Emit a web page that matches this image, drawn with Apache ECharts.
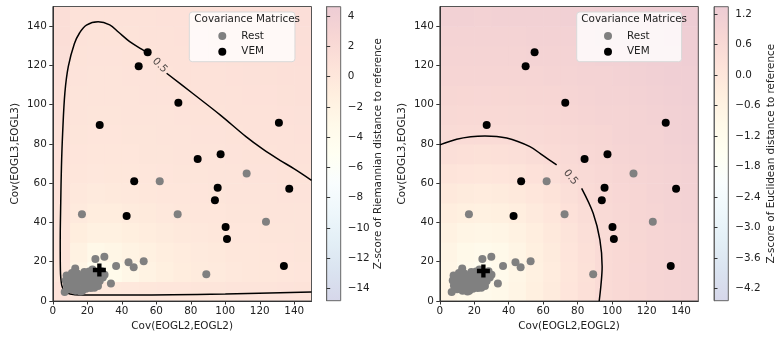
<!DOCTYPE html>
<html>
<head>
<meta charset="utf-8">
<script src="https://cdn.jsdelivr.net/npm/echarts@6/dist/echarts.min.js"></script>
<style>
  html, body { margin: 0; padding: 0; background: #fff; }
  #chart { width: 779px; height: 338px; }
</style>
</head>
<body>
<div id="chart"></div>
<script>
'use strict';

// scatter points, shared by both panels
var restPoints = [
  [112.4, 64.9], [62.0, 61.0], [16.9, 44.2], [72.4, 44.2], [123.6, 40.4], [89.0, 13.6],
  [29.9, 22.6], [24.7, 21.4], [43.9, 19.7], [52.7, 20.2], [36.7, 17.8], [46.9, 17.2],
  [33.7, 8.9], [13.0, 16.5], [6.9, 4.6],
  [8.0, 13.0], [10.2, 12.1], [9.1, 10.0], [11.3, 8.8], [8.2, 7.9], [12.4, 6.9], [10.1, 6.0],
  [13.2, 5.2], [15.3, 6.1], [17.1, 5.2], [19.2, 6.3], [14.0, 9.2], [16.2, 10.1], [18.1, 8.2],
  [20.3, 7.4], [22.0, 6.6], [21.2, 9.3], [23.1, 10.4], [19.0, 11.2], [17.2, 13.1], [15.1, 12.0],
  [12.2, 11.1], [20.2, 13.3], [22.1, 12.2], [24.2, 11.3], [26.1, 12.1], [28.0, 13.0], [25.1, 9.1],
  [27.2, 10.2], [29.0, 12.0], [18.3, 14.8], [21.1, 15.0], [24.0, 14.2], [23.0, 16.0], [28.3, 15.2],
  [30.0, 13.4], [16.1, 4.8], [24.1, 6.8], [26.2, 7.6], [11.1, 14.2], [14.2, 14.0], [9.0, 7.0],
  [7.5, 10.5], [13.5, 12.8]
];
var vemPoints = [
  [84.0, 72.3], [97.3, 74.7], [47.2, 61.0], [95.6, 57.7], [137.1, 57.2], [94.0, 51.3],
  [42.8, 43.3], [100.2, 37.7], [101.0, 31.6], [134.0, 17.8], [55.0, 126.7], [49.8, 119.6],
  [72.8, 101.0], [27.2, 89.7], [131.1, 90.8], [152.0, 94.8]
];

// reference matrices (cross)
var refRiemann = [27.0, 15.8];
var refEuclid = [25.3, 15.3];

// 0.5 contour lines, split where the label sits
var contourRiemannA = [
  [150, 61.5], [140, 67.3], [131.5, 71.8], [122, 77.2], [112, 83.7], [97, 94.8], [81, 105.8], [66, 116]
];
var contourRiemannB = [
  [56.2, 125.3], [52, 128], [44.6, 132.1], [38, 137], [33, 140.6], [26.3, 142.2], [19.5, 140.5],
  [15.5, 136.5], [12.5, 131], [9, 119.5], [7, 106], [5.7, 85.4], [5, 68], [4.6, 50], [4.3, 30],
  [4.4, 16], [5.2, 8], [7, 4.8], [10, 3.6], [16, 3.1], [47, 3.1], [100, 3.6], [150, 4.6]
];
var contourEuclidA = [
  [0, 79.5], [9.8, 82.4], [18, 83.7], [26.2, 84.1], [38.8, 83.0], [52.3, 78.6], [60, 74], [67.8, 69.3]
];
var contourEuclidB = [
  [82.3, 57.4], [89, 44.7], [92.9, 31.1], [94.2, 17.5], [93.5, 8], [92.5, 0]
];
var contourLabelRiemann = [62, 120];
var contourLabelEuclid = [75.9, 63];

// background z-score field, cell centres every 10 units, rows from y=5 (bottom) up
var cellCenters = [5, 15, 25, 35, 45, 55, 65, 75, 85, 95, 105, 115, 125, 135, 145];
var zRiemann = [
  [0.69, -0.08, -0.35, -0.30, -0.15, 0.01, 0.10, 0.19, 0.26, 0.33, 0.38, 0.44, 0.49, 0.54, 0.58],
  [0.35, -2.36, -4.20, -3.69, -2.69, -1.96, -1.41, -0.98, -0.68, -0.43, -0.22, -0.04, 0.05, 0.14, 0.21],
  [0.39, -1.81, -2.89, -2.65, -2.06, -1.52, -1.06, -0.75, -0.47, -0.26, -0.07, 0.05, 0.13, 0.21, 0.27],
  [0.48, -1.04, -1.67, -1.55, -1.19, -0.87, -0.58, -0.34, -0.14, 0.02, 0.11, 0.19, 0.26, 0.32, 0.37],
  [0.58, -0.52, -0.91, -0.84, -0.62, -0.40, -0.19, 0.00, 0.09, 0.18, 0.25, 0.31, 0.37, 0.42, 0.47],
  [0.67, -0.15, -0.43, -0.38, -0.23, -0.05, 0.07, 0.15, 0.24, 0.30, 0.36, 0.41, 0.47, 0.51, 0.56],
  [0.77, 0.08, -0.09, -0.05, 0.04, 0.12, 0.21, 0.28, 0.34, 0.40, 0.45, 0.51, 0.56, 0.60, 0.65],
  [0.86, 0.21, 0.10, 0.12, 0.18, 0.25, 0.32, 0.38, 0.43, 0.49, 0.54, 0.59, 0.64, 0.69, 0.74],
  [0.95, 0.31, 0.23, 0.24, 0.29, 0.35, 0.41, 0.46, 0.52, 0.57, 0.62, 0.67, 0.73, 0.78, 0.83],
  [1.05, 0.40, 0.32, 0.33, 0.38, 0.43, 0.49, 0.54, 0.59, 0.64, 0.70, 0.76, 0.81, 0.86, 0.91],
  [1.13, 0.48, 0.40, 0.41, 0.45, 0.51, 0.56, 0.61, 0.66, 0.72, 0.78, 0.84, 0.89, 0.94, 1.00],
  [1.21, 0.55, 0.47, 0.49, 0.53, 0.57, 0.63, 0.68, 0.74, 0.80, 0.86, 0.91, 0.97, 1.03, 1.08],
  [1.29, 0.61, 0.54, 0.55, 0.59, 0.64, 0.70, 0.76, 0.82, 0.87, 0.93, 0.99, 1.05, 1.11, 1.16],
  [1.36, 0.68, 0.60, 0.61, 0.65, 0.71, 0.77, 0.83, 0.88, 0.95, 1.01, 1.07, 1.13, 1.18, 1.24],
  [1.42, 0.75, 0.66, 0.68, 0.72, 0.78, 0.84, 0.89, 0.96, 1.02, 1.08, 1.14, 1.20, 1.25, 1.30]
];
var zEuclid = [
  [-0.73, -0.98, -1.10, -0.98, -0.73, -0.46, -0.22, 0.03, 0.27, 0.51, 0.61, 0.71, 0.80, 0.88, 0.95],
  [-0.80, -1.10, -1.35, -1.10, -0.80, -0.50, -0.25, 0.00, 0.25, 0.50, 0.60, 0.70, 0.80, 0.88, 0.95],
  [-0.73, -0.98, -1.10, -0.98, -0.73, -0.46, -0.22, 0.03, 0.27, 0.51, 0.61, 0.71, 0.80, 0.88, 0.95],
  [-0.55, -0.73, -0.80, -0.73, -0.55, -0.35, -0.13, 0.10, 0.33, 0.53, 0.63, 0.72, 0.82, 0.89, 0.96],
  [-0.35, -0.46, -0.50, -0.46, -0.35, -0.19, 0.00, 0.21, 0.43, 0.56, 0.65, 0.75, 0.84, 0.91, 0.98],
  [-0.13, -0.22, -0.25, -0.22, -0.13, 0.00, 0.16, 0.35, 0.52, 0.61, 0.69, 0.79, 0.86, 0.93, 1.00],
  [0.10, 0.03, 0.00, 0.03, 0.10, 0.21, 0.35, 0.51, 0.58, 0.66, 0.74, 0.82, 0.89, 0.96, 1.02],
  [0.33, 0.27, 0.25, 0.27, 0.33, 0.43, 0.52, 0.58, 0.65, 0.72, 0.80, 0.87, 0.93, 0.99, 1.05],
  [0.53, 0.51, 0.50, 0.51, 0.53, 0.56, 0.61, 0.66, 0.72, 0.79, 0.85, 0.91, 0.96, 1.03, 1.09],
  [0.63, 0.61, 0.60, 0.61, 0.63, 0.65, 0.69, 0.74, 0.80, 0.85, 0.90, 0.95, 1.01, 1.07, 1.12],
  [0.72, 0.71, 0.70, 0.71, 0.72, 0.75, 0.79, 0.82, 0.87, 0.91, 0.95, 1.00, 1.06, 1.11, 1.15],
  [0.82, 0.80, 0.80, 0.80, 0.82, 0.84, 0.86, 0.89, 0.93, 0.96, 1.01, 1.06, 1.11, 1.14, 1.18],
  [0.89, 0.88, 0.88, 0.88, 0.89, 0.91, 0.93, 0.96, 0.99, 1.03, 1.07, 1.11, 1.14, 1.18, 1.21],
  [0.96, 0.95, 0.95, 0.95, 0.96, 0.98, 1.00, 1.02, 1.05, 1.09, 1.12, 1.15, 1.18, 1.21, 1.25],
  [1.03, 1.03, 1.02, 1.03, 1.03, 1.05, 1.07, 1.09, 1.12, 1.14, 1.16, 1.19, 1.22, 1.25, 1.28]
];

// colorbars
var cbRiemannRange = [-14.82, 4.62];
var cbRiemannTicks = [-14, -12, -10, -8, -6, -4, -2, 0, 2, 4];
var cbEuclidRange = [-4.44, 1.34];
var cbEuclidTicks = [-4.2, -3.6, -3.0, -2.4, -1.8, -1.2, -0.6, 0, 0.6, 1.2];

// RdYlBu_r, faded (alpha 0.2 on white), low -> high
var cmap = ['#d6d7ea', '#dae3f0', '#e3eff6', '#eef7fb', '#f9fdfe', '#fffff2',
            '#fff9e9', '#ffefdf', '#fde2d9', '#f7d6d4', '#edccd4'];

var font = 'DejaVu Sans';
var fs = 10.4;
var ink = '#222';
var cellHalf = (cellCenters[1] - cellCenters[0]) / 2;
var crossPath = 'path://M4,0H8V4H12V8H8V12H4V8H0V4H4Z';

function minus(s) {
  return String(s).replace('-', '\u2212');
}

function heatData(zRows) {
  var out = [];
  zRows.forEach(function (row, j) {
    row.forEach(function (z, i) {
      out.push([cellCenters[i], cellCenters[j], z]);
    });
  });
  return out;
}

function renderCell(params, api) {
  var x = api.value(0);
  var y = api.value(1);
  var p0 = api.coord([x - cellHalf, y + cellHalf]);
  var p1 = api.coord([x + cellHalf, y - cellHalf]);
  return {
    type: 'rect',
    shape: { x: p0[0], y: p0[1], width: p1[0] - p0[0] + 0.6, height: p1[1] - p0[1] + 0.6 },
    style: { fill: api.visual('color') },
  };
}

function renderColorbar(params, api) {
  var p0 = api.coord([0, api.value(2)]);
  var p1 = api.coord([1, api.value(1)]);
  var n = cmap.length;
  var stops = cmap.map(function (c, k) {
    return { offset: k / (n - 1), color: cmap[n - 1 - k] };
  });
  return {
    type: 'rect',
    shape: { x: p0[0], y: p0[1], width: p1[0] - p0[0], height: p1[1] - p0[1] },
    style: { fill: new echarts.graphic.LinearGradient(0, 0, 0, 1, stops) },
  };
}

function panelSeries(k, zRows, cA, cB, labelPos, labelRot, ref) {
  var lineStyle = { color: '#000', width: 1.5 };
  return [{
    type: 'custom',
    xAxisIndex: k, yAxisIndex: k,
    renderItem: renderCell,
    data: heatData(zRows),
    encode: { x: 0, y: 1 },
    clip: true,
    silent: true,
    z: -1,
  }, {
    type: 'line', xAxisIndex: k, yAxisIndex: k,
    data: cA, symbol: 'none', smooth: 0.35, lineStyle: lineStyle, silent: true, z: 3,
  }, {
    type: 'line', xAxisIndex: k, yAxisIndex: k,
    data: cB, symbol: 'none', smooth: 0.35, lineStyle: lineStyle, silent: true, z: 3,
  }, {
    type: 'scatter', xAxisIndex: k, yAxisIndex: k,
    data: [labelPos], symbolSize: 1,
    itemStyle: { color: 'rgba(0,0,0,0)' },
    label: {
      show: true, position: 'inside', formatter: '0.5', rotate: labelRot,
      fontFamily: font, fontSize: fs, color: ink,
    },
    silent: true, z: 3,
  }, {
    name: 'Rest', type: 'scatter', xAxisIndex: k, yAxisIndex: k,
    data: restPoints, symbolSize: 8, itemStyle: { color: '#808080', opacity: 1 }, silent: true, z: 4,
  }, {
    name: 'VEM', type: 'scatter', xAxisIndex: k, yAxisIndex: k,
    data: vemPoints, symbolSize: 8, itemStyle: { color: '#000', opacity: 1 }, silent: true, z: 5,
  }, {
    type: 'scatter', xAxisIndex: k, yAxisIndex: k,
    data: [ref], symbol: crossPath, symbolSize: 13, itemStyle: { color: '#000', opacity: 1 }, silent: true, z: 6,
  }];
}

function plotAxes(k, name, isY) {
  var ax = {
    type: 'value', gridIndex: k, min: 0, max: 150, interval: 20,
    name: name, nameLocation: 'middle',
    nameTextStyle: { fontFamily: font, fontSize: fs, color: ink },
    axisLine: { show: true, onZero: false, lineStyle: { color: '#333', width: 1 } },
    axisTick: { show: true, length: 3.5, lineStyle: { color: '#333' } },
    axisLabel: { fontFamily: font, fontSize: fs, color: ink, showMaxLabel: false },
    splitLine: { show: false },
  };
  if (isY) {
    ax.nameGap = 33;
    ax.nameRotate = 90;
    ax.axisLabel.margin = 6;
  } else {
    ax.nameGap = 19;
    ax.axisLabel.margin = 5;
  }
  return ax;
}

function colorbarAxis(k, range, ticks, name, digits, gap) {
  return {
    type: 'value', gridIndex: k, position: 'right', min: range[0], max: range[1],
    name: name, nameLocation: 'middle', nameGap: gap, nameRotate: 90,
    nameTextStyle: { fontFamily: font, fontSize: fs, color: ink },
    axisLine: { show: true, lineStyle: { color: '#666' } },
    axisTick: { show: true, length: 3.5, customValues: ticks, lineStyle: { color: '#333' } },
    axisLabel: {
      customValues: ticks, margin: 7, fontFamily: font, fontSize: fs, color: ink,
      formatter: function (v) { return minus(v.toFixed(digits)); },
    },
    splitLine: { show: false },
  };
}

function legendBox(left, padLeft, padRight) {
  return {
    data: ['Rest', 'VEM'], orient: 'vertical', left: left, top: 12,
    icon: 'circle', itemWidth: 28, itemHeight: 8, itemGap: 3.7,
    padding: [18, padRight, 4, padLeft],
    backgroundColor: 'rgba(255,255,255,0.8)', borderColor: '#d9d9d9', borderWidth: 1, borderRadius: 3,
    textStyle: { fontFamily: font, fontSize: fs, color: ink, lineHeight: 12 },
    selectedMode: false,
  };
}

var chart = echarts.init(document.getElementById('chart'), null, { renderer: 'canvas' });

var series = []
  .concat(panelSeries(0, zRiemann, contourRiemannA, contourRiemannB, contourLabelRiemann, -45, refRiemann))
  .concat(panelSeries(1, zEuclid, contourEuclidA, contourEuclidB, contourLabelEuclid, -50, refEuclid));
series.push({
  type: 'custom', xAxisIndex: 2, yAxisIndex: 2, renderItem: renderColorbar,
  data: [[0, cbRiemannRange[0], cbRiemannRange[1]]], encode: { x: 0, y: [1, 2] },
  silent: true, z: -1,
});
series.push({
  type: 'custom', xAxisIndex: 3, yAxisIndex: 3, renderItem: renderColorbar,
  data: [[0, cbEuclidRange[0], cbEuclidRange[1]]], encode: { x: 0, y: [1, 2] },
  silent: true, z: -1,
});

chart.setOption({
  animation: false,
  textStyle: { fontFamily: font },
  grid: [
    { left: 52.8, top: 6.5, width: 258.7, height: 294.5, show: true, borderColor: '#555', borderWidth: 1 },
    { left: 439.8, top: 6.5, width: 258.5, height: 294.5, show: true, borderColor: '#555', borderWidth: 1 },
    { left: 326.7, top: 6.7, width: 14, height: 294, show: true, borderColor: '#666', borderWidth: 1 },
    { left: 714, top: 6.7, width: 14.3, height: 294, show: true, borderColor: '#666', borderWidth: 1 },
  ],
  xAxis: [
    plotAxes(0, 'Cov(EOGL2,EOGL2)', false),
    plotAxes(1, 'Cov(EOGL2,EOGL2)', false),
    { type: 'value', gridIndex: 2, min: 0, max: 1, show: false },
    { type: 'value', gridIndex: 3, min: 0, max: 1, show: false },
  ],
  yAxis: [
    plotAxes(0, 'Cov(EOGL3,EOGL3)', true),
    plotAxes(1, 'Cov(EOGL3,EOGL3)', true),
    colorbarAxis(2, cbRiemannRange, cbRiemannTicks, 'Z-score of Riemannian distance to reference', 0, 33),
    colorbarAxis(3, cbEuclidRange, cbEuclidTicks, 'Z-score of Euclidean distance to reference', 1, 38),
  ],
  visualMap: [
    { type: 'continuous', show: false, seriesIndex: 0, dimension: 2,
      min: cbRiemannRange[0], max: cbRiemannRange[1], inRange: { color: cmap } },
    { type: 'continuous', show: false, seriesIndex: 7, dimension: 2,
      min: cbEuclidRange[0], max: cbEuclidRange[1], inRange: { color: cmap } },
  ],
  legend: [
    legendBox(189.3, 29, 31),
    legendBox(576.7, 27.3, 32),
  ],
  title: [
    { text: 'Covariance Matrices', left: 194.3, top: 14.5, padding: 0,
      textStyle: { fontFamily: font, fontSize: fs, fontWeight: 'normal', color: ink } },
    { text: 'Covariance Matrices', left: 581.3, top: 14.5, padding: 0,
      textStyle: { fontFamily: font, fontSize: fs, fontWeight: 'normal', color: ink } },
  ],
  series: series,
});
</script>
</body>
</html>
